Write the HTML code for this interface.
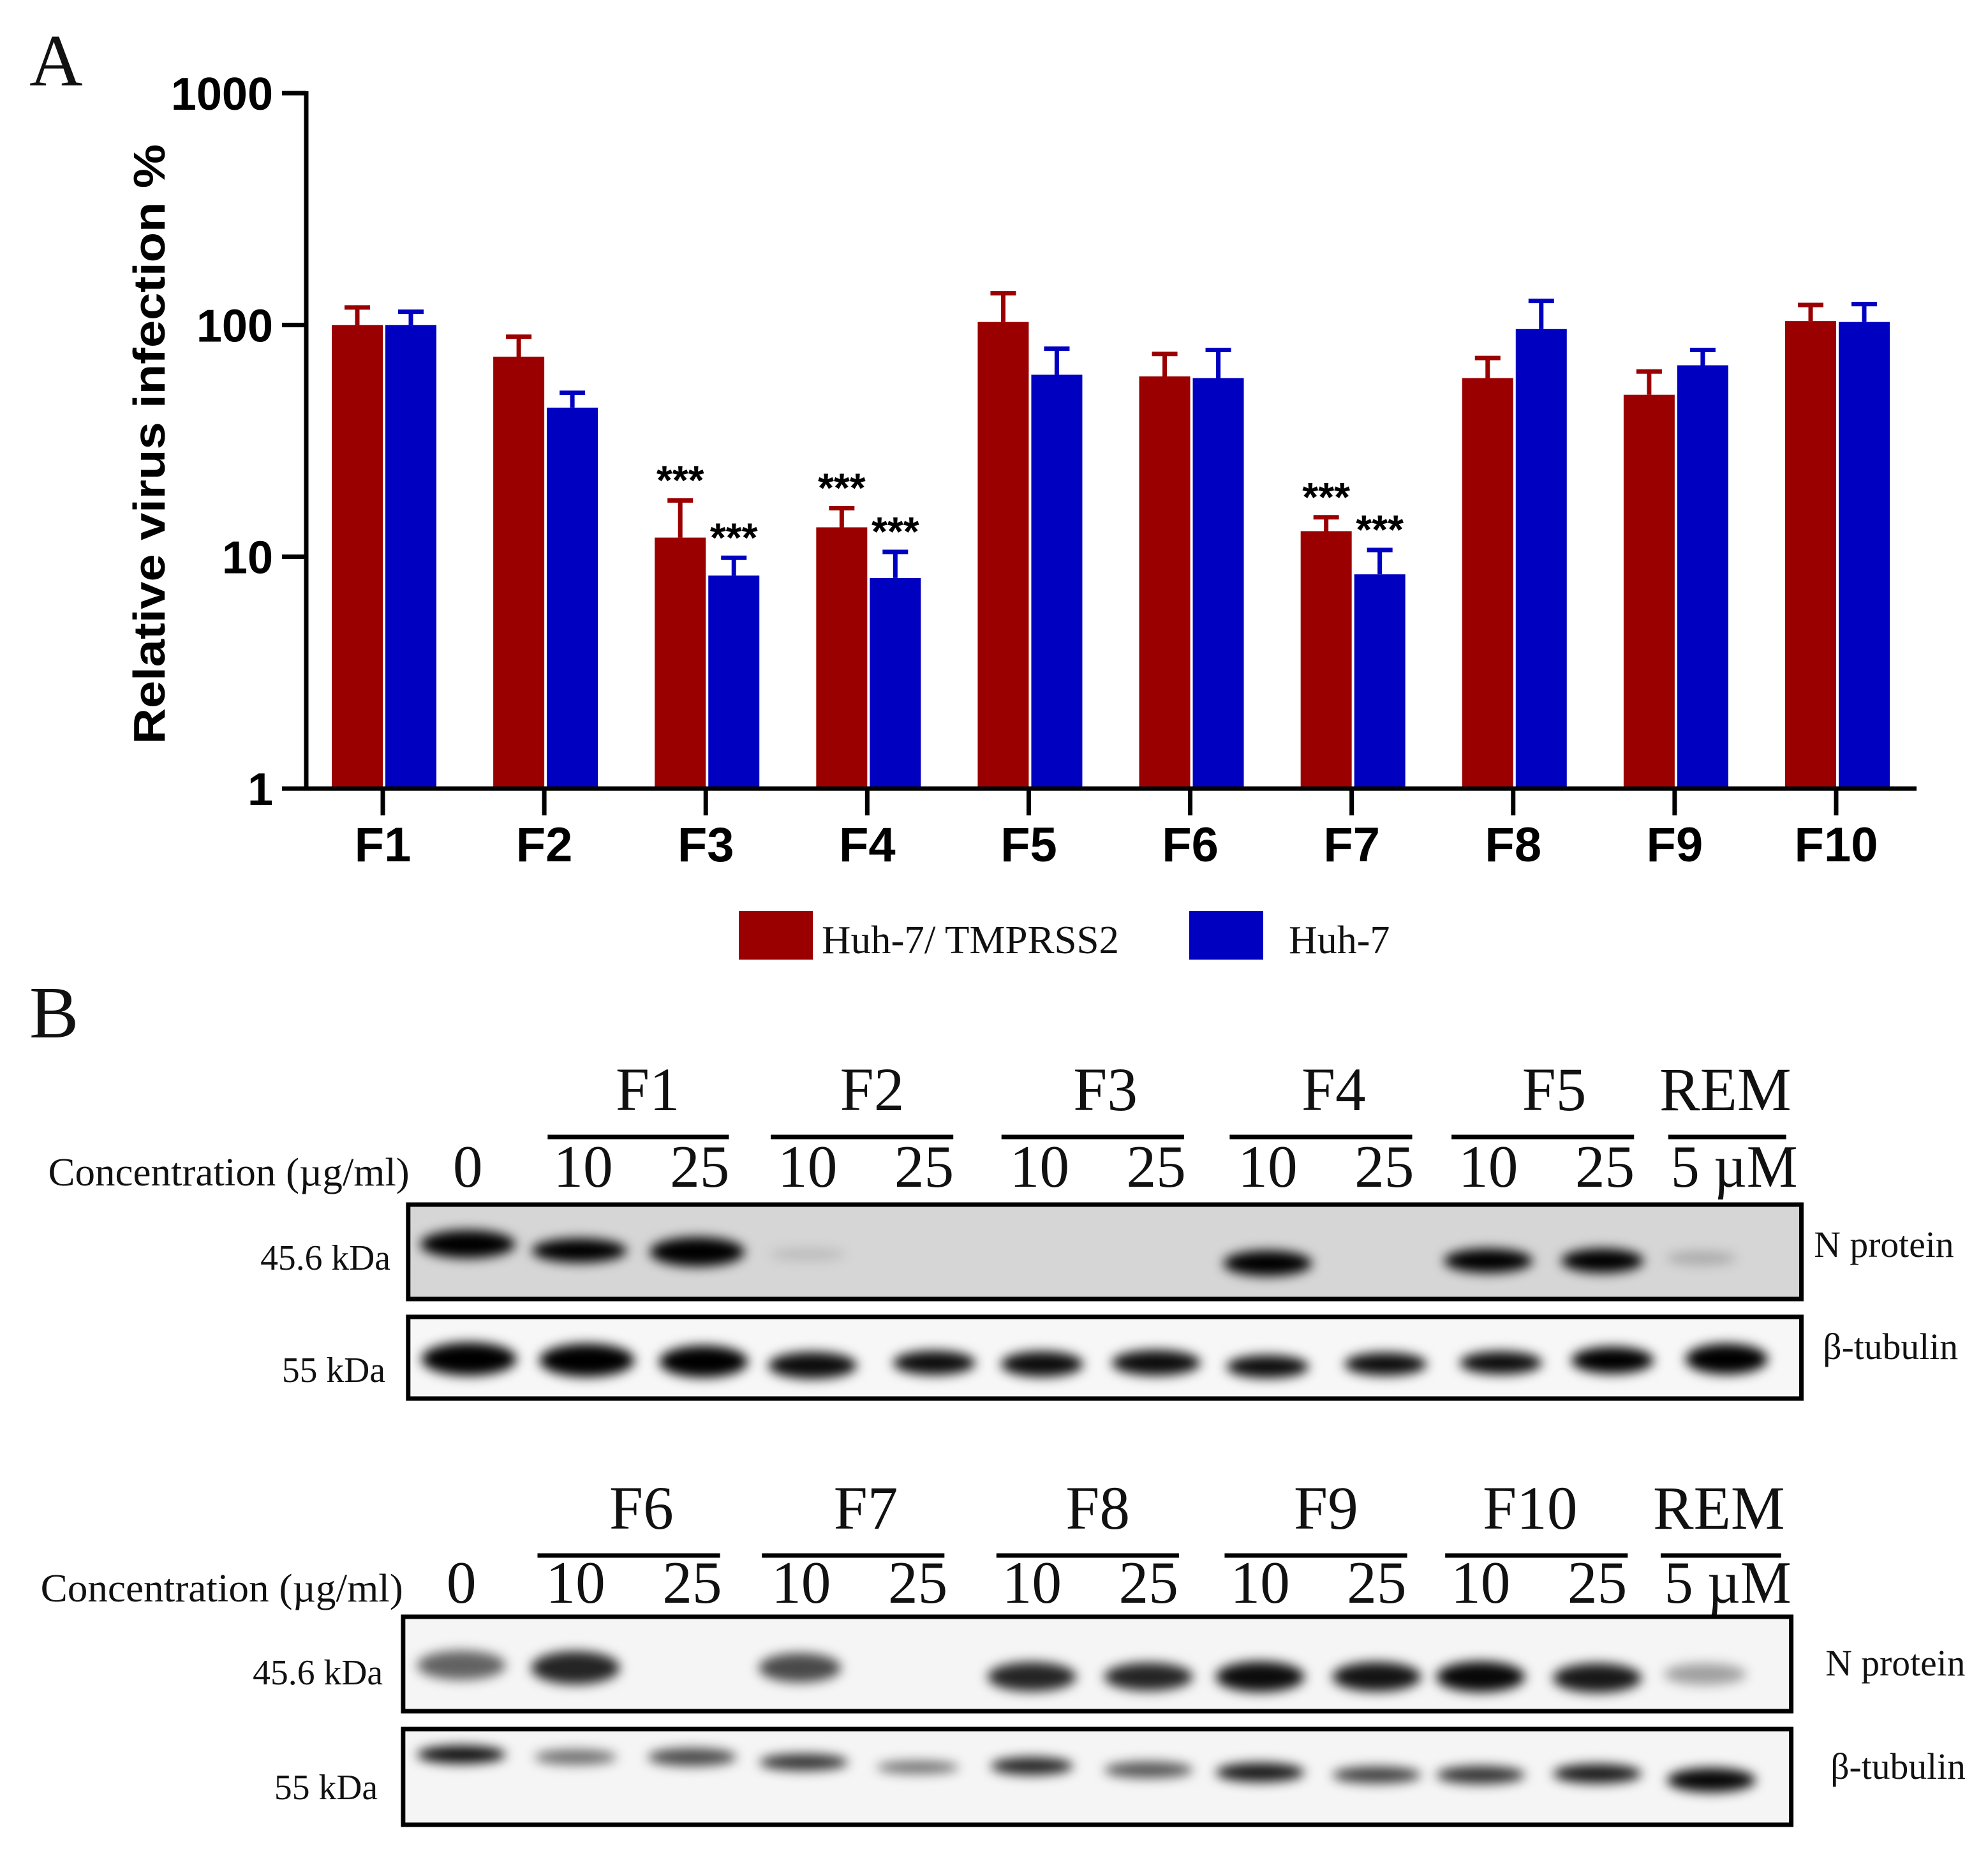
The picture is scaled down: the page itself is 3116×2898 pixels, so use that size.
<!DOCTYPE html>
<html><head><meta charset="utf-8">
<style>
html,body{margin:0;padding:0;background:#fff;}
svg{display:block;}
.ser{font-family:"Liberation Serif",serif;fill:#111;}
.sans{font-family:"Liberation Sans",sans-serif;font-weight:bold;fill:#000;}
</style></head>
<body>
<svg id="fig" width="3116" height="2898" viewBox="0 0 3116 2898" xmlns="http://www.w3.org/2000/svg">
<defs>
<filter id="blur" x="-30%" y="-80%" width="160%" height="260%"><feGaussianBlur stdDeviation="9"/></filter>
</defs>
<text class="ser" x="46" y="134" font-size="116">A</text>
<g id="chart"></g>
<g id="legend">
  <rect x="1158" y="1428" width="116" height="76" fill="#9b0000"/>
  <text class="ser" x="1288" y="1494" font-size="62" textLength="466" lengthAdjust="spacingAndGlyphs">Huh-7/ TMPRSS2</text>
  <rect x="1864" y="1428" width="116" height="76" fill="#0000c0"/>
  <text class="ser" x="2020" y="1494" font-size="62">Huh-7</text>
</g>
<text class="ser" x="46" y="1626" font-size="116">B</text>
<g id="blots" transform="scale(0.9935,1)"></g>
</svg>
<script>
// ---- Chart data ----
const categories = ["F1","F2","F3","F4","F5","F6","F7","F8","F9","F10"];
const tmprssValues = [100,73,12.1,13.4,103,60,12.9,59,50,104];
const tmprssErrTop = [119,89,17.5,16.2,137,75,14.8,72,63,122];
const huhValues = [100,44,8.3,8.1,61,59,8.4,96,67,103];
const huhErrTop = [114,51,9.9,10.5,79,78,10.7,127,78,123];
const tmprssSig = ["","","***","***","","","***","","",""];
const huhSig = ["","","***","***","","","***","","",""];
const yTicks = [1,10,100,1000];
const yTickLabels = ["1","10","100","1000"];

const NS="http://www.w3.org/2000/svg";
function mk(tag,attrs,parent){const e=document.createElementNS(NS,tag);for(const k in attrs)e.setAttribute(k,attrs[k]);parent.appendChild(e);return e;}

const X0=480,X1=3004,Y0=1236,Y1=146;
const xFirst=600,xLast=2878;
function xScale(i){return xFirst+i*(xLast-xFirst)/(categories.length-1);}
function yScale(v){return Y0-(Math.log10(v)-0)/(3-0)*(Y0-Y1);}

const chart=document.getElementById('chart');
const RED="#9b0000",BLUE="#0000c0";
function drawBar(cx,val,err,color,sig,name){
  const bw=80;
  const y=yScale(val), ye=yScale(err);
  const g=mk('g',{},chart);
  
  
  const ln=mk('line',{x1:cx,x2:cx,y1:y,y2:ye,stroke:color,'stroke-width':7},g);
  
  
  const cap=mk('line',{x1:cx-20,x2:cx+20,y1:ye,y2:ye,stroke:color,'stroke-width':7},g);
  
  
  const r=mk('rect',{x:cx-bw/2,y:y,width:bw,height:Y0-y,fill:color},g);
  
  
  if(sig){
    const t=mk('text',{x:cx,y:ye-10,'text-anchor':'middle','font-size':64,class:'sans'},g);
    t.textContent=sig;
    
    
  }
}
categories.forEach((c,i)=>{
  const cx=xScale(i);
  drawBar(cx-40,tmprssValues[i],tmprssErrTop[i],RED,tmprssSig[i],'bar-'+c.toLowerCase()+'-huh7-tmprss2');
  drawBar(cx+44,huhValues[i],huhErrTop[i],BLUE,huhSig[i],'bar-'+c.toLowerCase()+'-huh7');
  const tk=mk('line',{x1:cx,x2:cx,y1:Y0,y2:Y0+42,stroke:'#000','stroke-width':7},chart);
  
  
  const lb=mk('text',{x:cx,y:1350,'text-anchor':'middle','font-size':76,class:'sans'},chart);
  lb.textContent=c;
  
  
});
const ax=mk('line',{x1:X0,x2:X0,y1:Y1-3,y2:Y0+3,stroke:'#000','stroke-width':7},chart);


const axx=mk('line',{x1:X0-3,x2:X1,y1:Y0,y2:Y0,stroke:'#000','stroke-width':7},chart);


yTicks.forEach((v,i)=>{
  const y=yScale(v);
  const t=mk('line',{x1:X0-38,x2:X0,y1:y,y2:y,stroke:'#000','stroke-width':7},chart);
  
  
  const l=mk('text',{x:428,y:y+26,'text-anchor':'end','font-size':72,class:'sans'},chart);
  l.textContent=yTickLabels[i];
  
  
});
const yt=mk('text',{x:0,y:0,transform:'translate(258,696) rotate(-90)','text-anchor':'middle','font-size':70,class:'sans',textLength:940,lengthAdjust:'spacingAndGlyphs'},chart);
yt.textContent='Relative virus infection %';



// ---- Western blots ----
const blotPanels=[
 {groups:["F1","F2","F3","F4","F5","REM"],
  groupX:[1022,1376,1744,2104,2452,2722],
  lines:[[864,1150],[1216,1504],[1580,1868],[1940,2228],[2290,2578],[2632,2818]],
  conc:["0","10","25","10","25","10","25","10","25","10","25","5 µM"],
  concX:[738,920,1104,1274,1458,1640,1824,2000,2184,2348,2532,2736],
  box1:[644,1888,2198,148], box2:[644,2064,2198,128], nBg:"#d6d6d6", tBg:"#f7f7f7",
  nBands:[[738,1950,150,44,1],[914,1960,150,38,1],[1100,1962,150,46,1],[1274,1966,120,20,0.12],[2000,1980,140,40,1],[2348,1976,140,38,1],[2528,1976,130,38,1],[2684,1972,110,22,0.2]],
  tBands:[[740,2130,150,52,1],[926,2132,150,52,1],[1110,2134,140,50,1],[1282,2140,140,42,0.95],[1474,2136,130,38,0.95],[1644,2138,130,40,0.95],[1824,2136,140,40,0.95],[2000,2142,130,36,0.95],[2186,2138,130,36,0.95],[2368,2136,130,36,0.95],[2544,2132,130,42,1],[2724,2130,130,48,1]],
  kdaN:[616,1990], kdaT:[608,2166], lblN:[2862,1970], lblT:[2876,2130], concLbl:[76,1858,570], groupY:1740, lineY:1782, concY:1860},
 {groups:["F6","F7","F8","F9","F10","REM"],
  groupX:[1012,1366,1732,2092,2414,2712],
  lines:[[848,1136],[1202,1490],[1572,1860],[1932,2220],[2280,2568],[2620,2810]],
  conc:["0","10","25","10","25","10","25","10","25","10","25","5 µM"],
  concX:[728,908,1092,1264,1448,1628,1812,1988,2172,2336,2520,2726],
  box1:[636,2534,2190,148], box2:[636,2710,2190,150], nBg:"#f5f5f5", tBg:"#f5f5f5",
  nBands:[[728,2610,140,46,0.6],[908,2614,140,52,0.85],[1262,2614,130,46,0.7],[1628,2628,140,46,0.85],[1812,2628,140,44,0.85],[1988,2628,140,48,0.95],[2172,2628,140,46,0.92],[2336,2628,140,48,0.97],[2520,2630,140,46,0.9],[2690,2624,130,34,0.35]],
  tBands:[[728,2750,140,28,0.95],[908,2754,130,24,0.55],[1092,2754,140,28,0.7],[1268,2762,140,26,0.8],[1448,2770,130,20,0.55],[1628,2768,130,28,0.85],[1812,2774,140,26,0.65],[1988,2778,140,30,0.9],[2172,2782,140,26,0.75],[2336,2782,140,28,0.8],[2520,2780,140,30,0.9],[2700,2790,140,38,0.97]],
  kdaN:[604,2640], kdaT:[596,2820], lblN:[2880,2626], lblT:[2888,2788], concLbl:[64,2510,572], groupY:2396, lineY:2438, concY:2512}
];
const blots=document.getElementById('blots');
blotPanels.forEach((p,pi)=>{
  const pn='blot-panel-'+(pi+1);
  p.groups.forEach((gname,i)=>{
    const t=mk('text',{x:p.groupX[i],y:p.groupY,'text-anchor':'middle','font-size':96,class:'ser'},blots);
    t.textContent=gname;
    
    
    const l=mk('line',{x1:p.lines[i][0],x2:p.lines[i][1],y1:p.lineY,y2:p.lineY,stroke:'#000','stroke-width':7},blots);
    
    
  });
  const cl=mk('text',{x:p.concLbl[0],y:p.concLbl[1],'font-size':62,class:'ser',textLength:p.concLbl[2],lengthAdjust:'spacingAndGlyphs'},blots);
  cl.textContent='Concentration (µg/ml)';
  
  
  p.conc.forEach((c,i)=>{
    const t=mk('text',{x:p.concX[i],y:p.concY,'text-anchor':'middle','font-size':94,class:'ser'},blots);
    if(c==='5 µM'){t.setAttribute('textLength',200);t.setAttribute('lengthAdjust','spacingAndGlyphs');}
    t.textContent=c;
    
    
  });
  [[p.box1,p.nBg,p.nBands,'n-protein'],[p.box2,p.tBg,p.tBands,'beta-tubulin']].forEach(([b,bg,bands,nm])=>{
    const g=mk('g',{},blots);
    
    
    mk('rect',{x:b[0],y:b[1],width:b[2],height:b[3],fill:bg},g);
    const bg2=mk('g',{filter:'url(#blur)'},g);
    bands.forEach((bd,j)=>{
      const e=mk('ellipse',{cx:bd[0],cy:bd[1],rx:bd[2]/2,ry:bd[3]/2,fill:'#000','fill-opacity':bd[4]},bg2);
      
      
    });
    mk('rect',{x:b[0],y:b[1],width:b[2],height:b[3],fill:'none',stroke:'#000','stroke-width':7},g);
  });
  const kn=mk('text',{x:p.kdaN[0],y:p.kdaN[1],'text-anchor':'end','font-size':56,class:'ser'},blots);
  kn.textContent='45.6 kDa';
  
  
  const kt=mk('text',{x:p.kdaT[0],y:p.kdaT[1],'text-anchor':'end','font-size':56,class:'ser'},blots);
  kt.textContent='55 kDa';
  
  
  const ln=mk('text',{x:p.lblN[0],y:p.lblN[1],'font-size':58,class:'ser'},blots);
  ln.textContent='N protein';
  
  
  const lt=mk('text',{x:p.lblT[0],y:p.lblT[1],'font-size':58,class:'ser'},blots);
  lt.textContent='β-tubulin';
  
  
});
</script>
</body></html>
